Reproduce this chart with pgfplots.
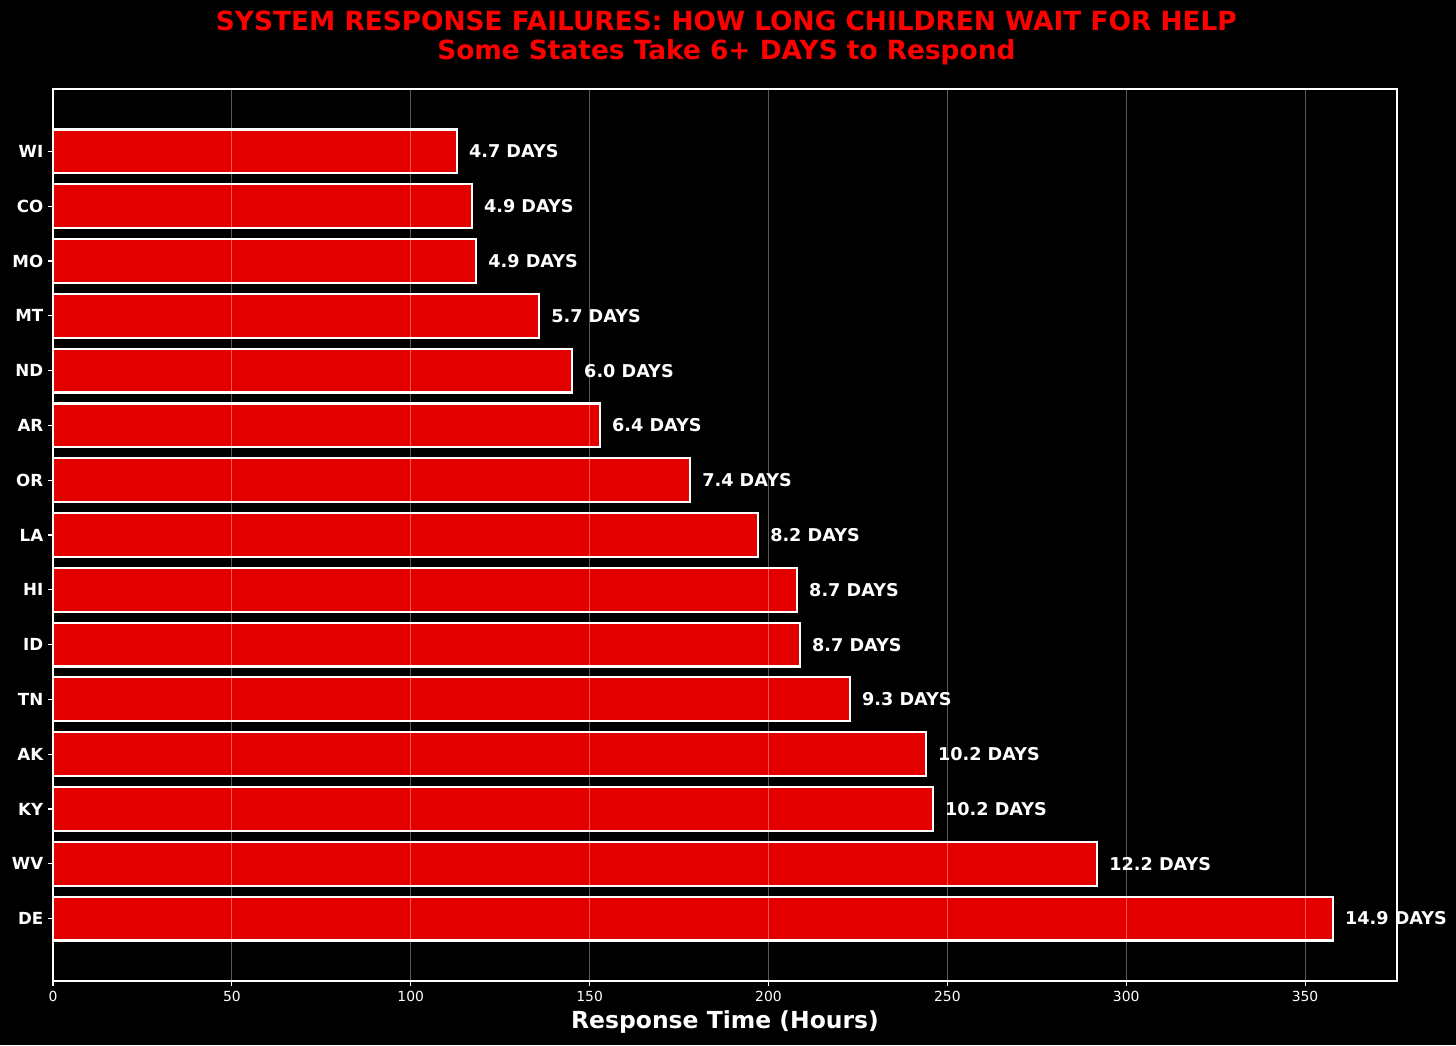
\documentclass[border=0pt]{standalone}
\usepackage{pgfplots}
\pgfplotsset{compat=1.18}
\usepackage{fontspec}
\setmainfont{DejaVu Sans}
\definecolor{barred}{RGB}{229,0,0}
\definecolor{titlered}{RGB}{255,0,0}
\pgfplotstableread{
y h d
0 357.8 14.9
1 291.9 12.2
2 246.0 10.2
3 244.0 10.2
4 222.8 9.3
5 208.8 8.7
6 208.0 8.7
7 197.1 8.2
8 178.1 7.4
9 152.9 6.4
10 145.1 6.0
11 135.9 5.7
12 118.3 4.9
13 117.1 4.9
14 112.9 4.7
}\datatable
\begin{document}
\begin{tikzpicture}
\fill[black] (0,0) rectangle (1048.32pt,752.4pt);
\begin{axis}[at={(38.16pt,46.08pt)}, anchor=south west, scale only axis,
  width=967.68pt, height=642.24pt,
  xmin=0, xmax=375.7, ymin=-1.14, ymax=15.14,
  xbar, bar width=0.8,
  ytick={0,...,14},
  yticklabels={DE,WV,KY,AK,TN,ID,HI,LA,OR,AR,ND,MT,MO,CO,WI},
  xtick={0,50,...,350},
  axis line style={white, line width=0.8pt},
  tick style={white, line width=0.8pt}, tick align=outside, major tick length=3.5pt,
  xtick pos=lower, ytick pos=left,
  xmajorgrids, major grid style={white, opacity=0.35, line width=0.8pt},
  axis on top,
  yticklabel style={font=\bfseries\fontsize{12}{14}\selectfont, text=white},
  xticklabel style={font=\fontsize{10}{12}\selectfont, text=white},
  /pgf/number format/assume math mode=true,
  xlabel={Response Time (Hours)},
  xlabel style={font=\bfseries\fontsize{16.9}{19}\selectfont, text=white},
  nodes near coords={\pgfplotspointmeta\ DAYS}, point meta=explicit symbolic,
  every node near coord/.style={font=\bfseries\fontsize{12.7}{15}\selectfont, text=white, anchor=west, inner sep=0pt, xshift=8pt},
]
\addplot[fill=barred, draw=white, line width=1.5pt] table[x=h, y=y, meta=d] {\datatable};
\end{axis}
\node[font=\bfseries\fontsize{19}{22}\selectfont, text=titlered, anchor=base, inner sep=0pt] at (523pt,730.1pt) {SYSTEM RESPONSE FAILURES: HOW LONG CHILDREN WAIT FOR HELP};
\node[font=\bfseries\fontsize{19}{22}\selectfont, text=titlered, anchor=base, inner sep=0pt] at (523pt,709.2pt) {Some States Take 6+ DAYS to Respond};
\end{tikzpicture}
\end{document}
